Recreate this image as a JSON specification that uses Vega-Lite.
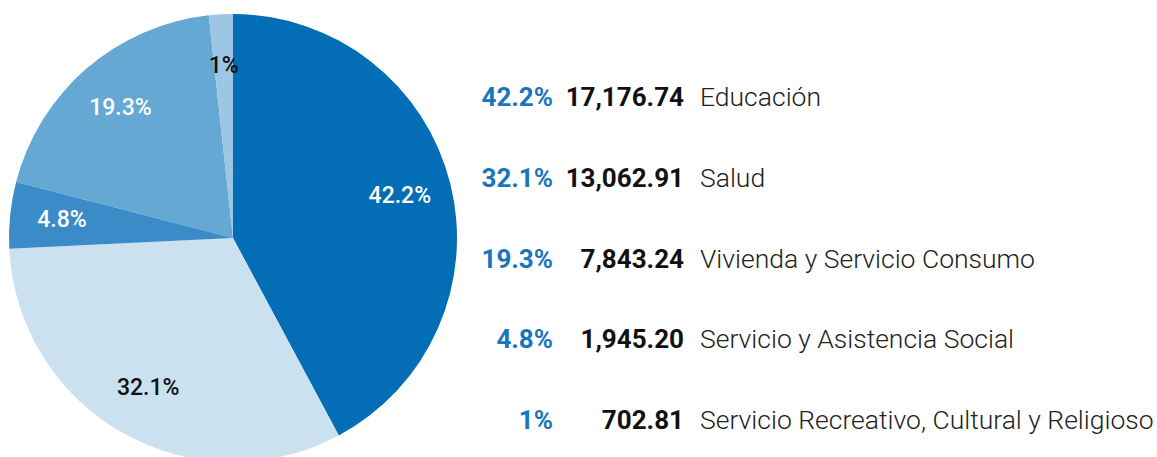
{
  "$schema": "https://vega.github.io/schema/vega-lite/v6.json",
  "padding": 0,
  "background": "white",
  "config": {"view": {"stroke": null}, "font": "Roboto"},
  "data": {
    "values": [
      {"name": "Educación", "value": 17176.74, "pctLabel": "42.2%", "pieOrder": 1, "rank": 1},
      {"name": "Salud", "value": 13062.91, "pctLabel": "32.1%", "pieOrder": 2, "rank": 2},
      {"name": "Vivienda y Servicio Consumo", "value": 7843.24, "pctLabel": "19.3%", "pieOrder": 4, "rank": 3},
      {"name": "Servicio y Asistencia Social", "value": 1945.20, "pctLabel": "4.8%", "pieOrder": 3, "rank": 4},
      {"name": "Servicio Recreativo, Cultural y Religioso", "value": 702.81, "pctLabel": "1%", "pieOrder": 5, "rank": 5}
    ]
  },
  "spacing": 0,
  "hconcat": [
    {
      "width": 466,
      "height": 476,
      "layer": [
        {
          "mark": {"type": "arc", "outerRadius": 224},
          "encoding": {
            "theta": {"field": "value", "type": "quantitative", "stack": true},
            "order": {"field": "pieOrder", "type": "quantitative"},
            "color": {
              "field": "name", "type": "nominal", "legend": null,
              "scale": {
                "domain": ["Educación", "Salud", "Vivienda y Servicio Consumo", "Servicio y Asistencia Social", "Servicio Recreativo, Cultural y Religioso"],
                "range": ["#036eb5", "#cce1f0", "#65a8d3", "#3a8bc7", "#9cc6e4"]
              }
            }
          }
        },
        {
          "mark": {"type": "text", "radius": 172, "fontSize": 23, "fontWeight": 500},
          "encoding": {
            "theta": {"field": "value", "type": "quantitative", "stack": true},
            "order": {"field": "pieOrder", "type": "quantitative"},
            "text": {"field": "pctLabel", "type": "nominal"},
            "color": {
              "field": "rank", "type": "nominal", "legend": null,
              "scale": {"domain": [1, 2, 3, 4, 5], "range": ["#ffffff", "#111111", "#ffffff", "#ffffff", "#111111"]}
            }
          }
        }
      ],
      "resolve": {"scale": {"color": "independent"}}
    },
    {
      "width": 87,
      "height": 476,
      "mark": {"type": "text", "align": "right", "x": "width", "fontSize": 26, "fontWeight": "bold", "color": "#1a75bb"},
      "encoding": {
        "y": {"field": "rank", "type": "ordinal", "axis": null, "scale": {"type": "point", "range": [98, 421], "padding": 0}},
        "text": {"field": "pctLabel", "type": "nominal"}
      }
    },
    {
      "width": 131,
      "height": 476,
      "mark": {"type": "text", "align": "right", "x": "width", "fontSize": 26, "fontWeight": "bold", "color": "#111111"},
      "encoding": {
        "y": {"field": "rank", "type": "ordinal", "axis": null, "scale": {"type": "point", "range": [98, 421], "padding": 0}},
        "text": {"field": "value", "type": "quantitative", "format": ",.2f"}
      }
    },
    {
      "width": 473,
      "height": 476,
      "mark": {"type": "text", "align": "left", "x": 16, "fontSize": 26.5, "fontWeight": 300, "color": "#222222"},
      "encoding": {
        "y": {"field": "rank", "type": "ordinal", "axis": null, "scale": {"type": "point", "range": [98, 421], "padding": 0}},
        "text": {"field": "name", "type": "nominal"}
      }
    }
  ]
}
